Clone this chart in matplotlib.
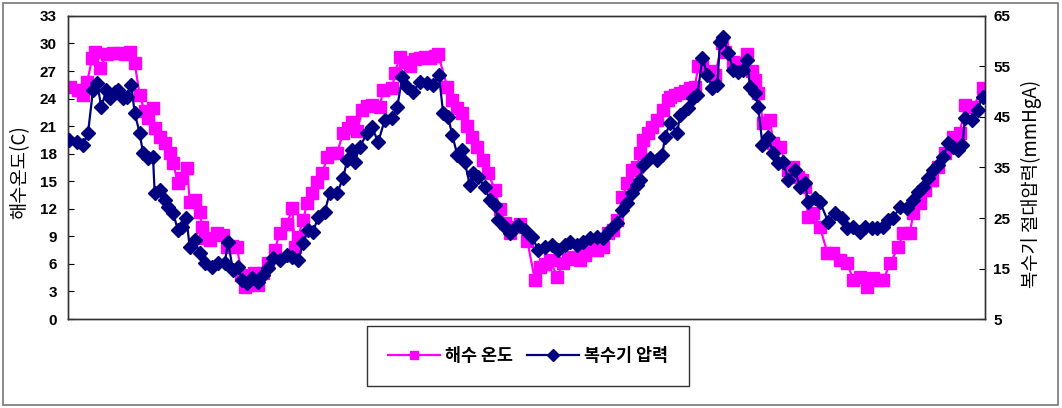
import matplotlib
matplotlib.use('Agg')
import matplotlib.pyplot as plt
from matplotlib.patches import Rectangle

# day index since start of record
temp_day = [2, 12, 18, 23, 29, 32, 38, 47, 54, 62, 68, 74, 80, 86, 92, 96, 102, 104, 110, 116,
            122, 126, 132, 137, 143, 146, 152, 158, 161, 164, 170, 179, 186, 191, 197, 203, 208, 212, 218, 223,
            228, 234, 240, 248, 254, 263, 269, 272, 276, 282, 287, 293, 299, 305, 311, 317, 323, 330, 336, 341,
            347, 353, 359, 365, 374, 378, 389, 392, 398, 404, 410, 416, 422, 428, 434, 440, 444, 455, 461, 467,
            473, 479, 485, 491, 498, 504, 512, 518, 524, 530, 536, 542, 551, 560, 566, 572, 578, 587, 594, 600,
            606, 614, 620, 626, 635, 642, 648, 654, 659, 665, 671, 677, 683, 686, 690, 696, 701, 707, 714, 720,
            722, 728, 734, 740, 746, 752, 756, 761, 770, 776, 785, 788, 798, 803, 806, 815, 820, 824, 828, 834,
            842, 846, 854, 864, 870, 876, 881, 884, 888, 894, 902, 911, 918, 926, 935, 942, 950, 959, 966, 972,
            978, 986, 996, 1002, 1010, 1014, 1022, 1028, 1037, 1044, 1052, 1062, 1070, 1076, 1086, 1097]
temp_c = [25.3, 24.9, 24.4, 25.8, 28.4, 29.1, 27.3, 28.8, 29.0, 29.0, 28.8, 29.1, 27.9, 24.4, 22.6, 21.9, 23.0, 20.8, 19.8, 19.2,
          18.1, 17.0, 14.8, 15.4, 16.4, 12.7, 13.0, 11.7, 10.0, 8.8, 8.6, 9.4, 9.2, 7.8, 8.0, 7.8, 4.8, 3.5, 4.2, 5.0,
          3.7, 5.0, 6.1, 7.5, 9.4, 10.4, 12.1, 7.8, 8.9, 10.8, 12.6, 13.7, 14.9, 15.9, 17.6, 18.1, 18.1, 20.3, 20.8, 21.5,
          20.5, 22.8, 23.2, 23.3, 23.1, 24.9, 25.1, 26.8, 28.5, 28.0, 27.5, 28.3, 28.4, 28.5, 28.4, 28.6, 28.8, 25.3, 23.9, 23.0,
          22.4, 21.0, 19.8, 18.7, 17.3, 15.9, 14.1, 12.0, 10.5, 9.4, 10.0, 10.4, 8.5, 4.3, 5.7, 6.0, 6.4, 4.6, 6.1, 6.5,
          6.8, 6.4, 7.0, 8.3, 7.5, 7.8, 9.4, 9.7, 10.8, 13.3, 14.8, 16.2, 16.5, 18.1, 19.5, 20.3, 20.9, 21.7, 22.8, 23.8,
          24.2, 24.4, 24.6, 24.8, 25.1, 25.3, 27.5, 27.5, 27.0, 26.6, 30.0, 29.1, 28.0, 27.9, 27.5, 28.8, 27.0, 26.0, 24.6, 21.3,
          21.7, 19.2, 18.7, 16.2, 16.6, 15.5, 15.1, 14.4, 11.1, 11.5, 10.0, 7.2, 7.2, 6.4, 6.1, 4.2, 4.6, 3.5, 4.5, 4.3,
          4.2, 6.1, 7.8, 9.4, 9.4, 11.5, 12.6, 14.1, 15.1, 16.6, 18.1, 19.8, 20.3, 23.3, 23.1, 25.1]

press_day = [1, 11, 18, 24, 30, 35, 40, 46, 50, 56, 60, 66, 71, 76, 80, 86, 90, 96, 102, 104,
             110, 116, 120, 126, 132, 137, 142, 146, 152, 158, 164, 173, 180, 188, 192, 198, 204, 209, 215, 221,
             228, 234, 240, 246, 254, 263, 269, 276, 282, 288, 294, 300, 308, 314, 323, 330, 335, 341, 344, 350,
             359, 365, 372, 380, 389, 395, 401, 407, 414, 422, 431, 438, 445, 450, 456, 461, 467, 473, 476, 482,
             486, 492, 500, 506, 512, 516, 524, 530, 540, 548, 557, 564, 572, 581, 588, 596, 602, 611, 618, 626,
             635, 642, 650, 659, 665, 671, 677, 683, 686, 690, 698, 707, 713, 716, 722, 731, 734, 744, 750, 755,
             761, 767, 773, 779, 782, 786, 792, 798, 804, 810, 815, 818, 824, 828, 833, 840, 846, 852, 858, 864,
             872, 878, 884, 888, 896, 902, 912, 920, 929, 935, 942, 950, 956, 965, 971, 978, 984, 990, 998, 1007,
             1014, 1020, 1026, 1032, 1038, 1044, 1050, 1056, 1062, 1068, 1073, 1076, 1085, 1091, 1097]
press_mmhg = [40.4, 40.0, 39.5, 41.8, 50.3, 51.7, 47.0, 50.3, 48.8, 50.0, 50.3, 48.8, 49.0, 51.3, 45.8, 41.8, 37.9, 36.9, 37.1, 30.0,
              30.5, 28.6, 27.2, 26.0, 22.6, 23.2, 25.0, 19.3, 20.6, 18.1, 16.1, 15.3, 16.1, 16.1, 20.2, 14.7, 15.3, 12.7, 12.1, 13.1,
              12.3, 13.7, 15.1, 17.1, 16.7, 17.7, 17.3, 16.7, 20.0, 22.6, 22.2, 25.2, 26.2, 30.0, 30.0, 32.9, 36.5, 38.5, 36.1, 39.1,
              41.8, 43.0, 40.0, 44.4, 44.8, 47.0, 52.9, 50.9, 50.0, 51.9, 51.7, 51.3, 53.3, 45.8, 45.0, 41.4, 37.5, 38.5, 36.1, 31.5,
              33.9, 33.1, 31.1, 28.6, 27.6, 24.6, 23.2, 22.0, 23.6, 22.6, 21.2, 18.7, 19.3, 19.7, 18.7, 19.7, 20.2, 19.7, 20.2, 21.0,
              21.2, 21.0, 22.6, 24.0, 26.6, 28.0, 30.0, 31.5, 32.5, 35.5, 36.9, 36.5, 37.5, 41.0, 43.8, 41.8, 45.4, 46.8, 48.8, 49.3,
              56.7, 53.3, 50.7, 51.3, 59.9, 60.8, 57.7, 54.3, 53.9, 54.3, 56.3, 50.9, 49.7, 47.0, 39.5, 41.0, 37.9, 35.9, 36.1, 32.5,
              34.5, 31.1, 31.9, 28.2, 29.0, 28.2, 24.2, 26.0, 25.0, 23.0, 23.2, 22.2, 23.2, 23.0, 23.0, 23.2, 24.6, 25.0, 27.2, 27.0,
              28.6, 30.2, 31.1, 32.9, 34.5, 35.5, 37.1, 39.8, 39.1, 38.5, 39.5, 44.8, 44.4, 46.4, 49.0]

temp_ticks = list(range(0, 34, 3))
press_ticks = list(range(5, 66, 10))

plt.rcParams['font.family'] = ['Liberation Sans', 'Noto Sans CJK KR', 'DejaVu Sans']
kr = ['Noto Sans CJK KR', 'DejaVu Sans']

fig = plt.figure(figsize=(10.62, 4.08), dpi=100)
ax = fig.add_axes([0.064, 0.218, 0.8635, 0.743])
ax2 = ax.twinx()

l1, = ax.plot(temp_day, temp_c, color='#ff00ff', lw=1.6, marker='s', ms=8,
              mec='#ff00ff', mfc='#ff00ff', label='해수 온도', zorder=2)
l2, = ax2.plot(press_day, press_mmhg, color='#000080', lw=1.6, marker='D', ms=7,
               mec='#000080', mfc='#000080', label='복수기 압력', zorder=3)

ax.set_xlim(0, 1100)
ax.set_xticks([])
ax.set_ylim(0, 33)
ax.set_yticks(temp_ticks)
ax2.set_ylim(5, 65)
ax2.set_yticks(press_ticks)

ax.tick_params(axis='y', direction='in', length=4, labelsize=11, pad=8)
ax2.tick_params(axis='y', direction='in', length=4, labelsize=11, pad=6)
for lab in ax.get_yticklabels() + ax2.get_yticklabels():
    lab.set_fontweight('bold')
for a in (ax, ax2):
    for s in a.spines.values():
        s.set_color('#333333')
        s.set_linewidth(1.0)

fig.text(0.019, 0.578, '해수온도(C)', rotation=90, ha='center', va='center',
         fontsize=13.5, family=kr, weight='medium')
fig.text(0.971, 0.55, '복수기 절대압력(mmHgA)', rotation=90, ha='center', va='center',
         fontsize=13.5, family=kr, weight='medium')

leg = fig.legend(handles=[l1, l2], loc='center', bbox_to_anchor=(0.497, 0.127),
                 ncol=2, frameon=True, fancybox=False, edgecolor='black',
                 prop={'family': kr, 'size': 12.5, 'weight': 'bold'},
                 handlelength=3.0, columnspacing=0.8, handletextpad=0.3,
                 borderpad=1.2, borderaxespad=0)
leg.get_frame().set_linewidth(1.0)
for h in leg.legend_handles:
    h.set_markersize(6)

fig.patches.append(Rectangle((0.003, 0.007), 0.993, 0.986, transform=fig.transFigure,
                             fill=False, edgecolor='#777777', linewidth=1.2))

fig.savefig('out.png', dpi=100)
